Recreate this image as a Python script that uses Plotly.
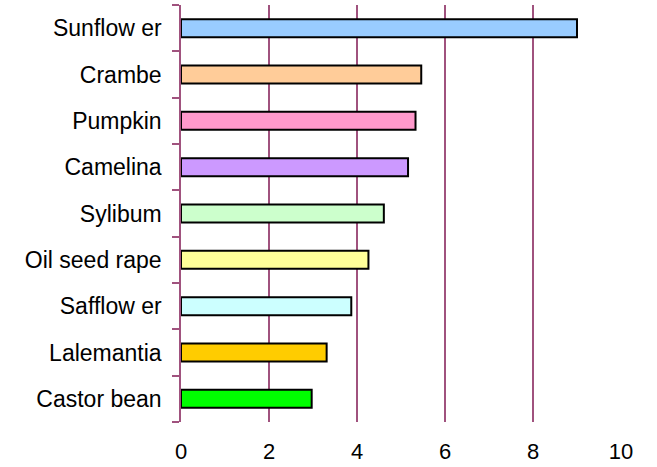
import plotly.graph_objects as go

# Oil crops, listed bottom to top as drawn on the category axis
crops = ["Castor bean", "Lalemantia", "Safflow er", "Oil seed rape", "Sylibum",
         "Camelina", "Pumpkin", "Crambe", "Sunflow er"]
values = [2.97, 3.31, 3.87, 4.26, 4.61, 5.16, 5.33, 5.46, 9.0]
bar_colors = ["#00FF00", "#FFCC00", "#CCFFFF", "#FFFF99", "#CCFFCC",
              "#CC99FF", "#FF99CC", "#FFCC99", "#99CCFF"]
x_ticks = [0, 2, 4, 6, 8, 10]

grid_color = "#A0527E"
font_family = "Liberation Sans, Arial, sans-serif"

fig = go.Figure(
    go.Bar(
        x=values,
        y=crops,
        orientation="h",
        marker=dict(color=bar_colors, line=dict(color="black", width=2)),
    )
)

fig.update_layout(
    width=657,
    height=467,
    margin=dict(l=181, r=36, t=5, b=45),
    paper_bgcolor="white",
    plot_bgcolor="white",
    bargap=0.61,
    showlegend=False,
    font=dict(family=font_family, size=23, color="black"),
)

fig.update_xaxes(
    range=[0, 10],
    tickvals=x_ticks,
    showgrid=True,
    gridcolor=grid_color,
    gridwidth=1.5,
    zeroline=False,
    showline=False,
    ticks="",
    ticklabelstandoff=14,
    tickfont=dict(size=22),
    automargin=False,
)

fig.update_yaxes(
    categoryorder="array",
    categoryarray=crops,
    showline=True,
    linecolor=grid_color,
    linewidth=1.5,
    ticks="outside",
    tickson="boundaries",
    ticklen=7,
    tickcolor=grid_color,
    tickwidth=1.5,
    showgrid=False,
    ticklabelstandoff=13,
    tickfont=dict(size=23),
    automargin=False,
)

fig.write_html("out.html")
